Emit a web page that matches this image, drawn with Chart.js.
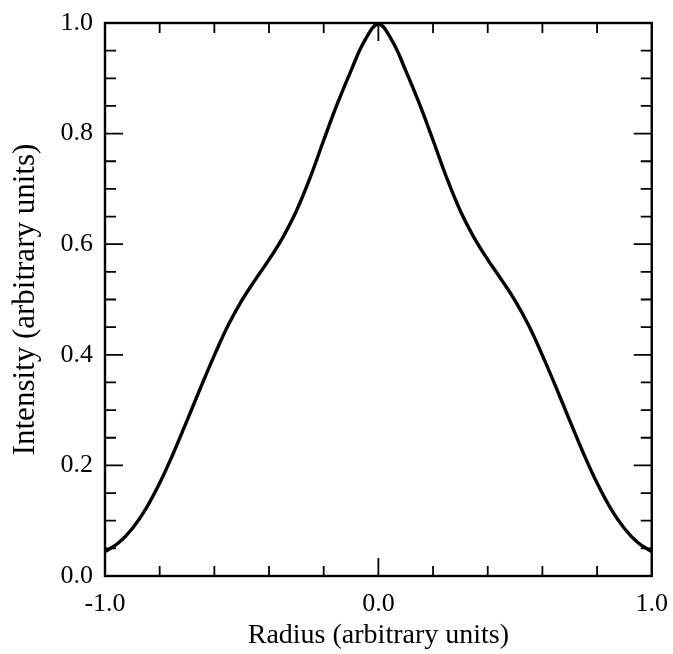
<!DOCTYPE html>
<html>
<head>
<meta charset="utf-8">
<script src="https://cdn.jsdelivr.net/npm/chart.js@4/dist/chart.umd.min.js"></script>
<style>
  html, body { margin: 0; padding: 0; background: #fff; }
  #wrap { width: 673px; height: 654px; }
</style>
</head>
<body>
<div id="wrap"><canvas id="c" width="673" height="654"></canvas></div>
<script>
/* ═══ DATA ═════════════════════════════════════════════ */
// left half of the profile; the curve is symmetric about 0
const RADIUS_L    = [-1.00,-0.95,-0.90,-0.85,-0.80,-0.75,-0.70,-0.65,-0.60,-0.55,-0.50,
                     -0.45,-0.40,-0.35,-0.30,-0.25,-0.20,-0.15,-0.10,-0.05, 0.00];
const INTENSITY_L = [0.044,0.060,0.086,0.122,0.168,0.222,0.281,0.341,0.399,0.453,0.498,
                     0.536,0.572,0.612,0.660,0.720,0.788,0.854,0.914,0.968,0.998];
const X_LABELS = [-1, 0, 1];
const Y_LABELS = [0, 0.2, 0.4, 0.6, 0.8, 1.0];

const SERIF = 'Liberation Serif';
const TICK_FONT = {family: SERIF, size: 26};

// mirror the right half
const radius = RADIUS_L.concat(RADIUS_L.slice(0, -1).reverse().map(r => -r));
const intensity = INTENSITY_L.concat(INTENSITY_L.slice(0, -1).reverse());
const points = radius.map((r, i) => ({x: r, y: intensity[i]}));

const near = (v, list) => list.some(t => Math.abs(t - v) < 1e-6);

/* ═══ FRAME + INWARD TICKS ═════════════════════════════ */
const framePlugin = {
  id: 'frame',
  afterDraw(chart) {
    const {ctx, chartArea: a, scales: {x, y}} = chart;
    ctx.save();
    ctx.strokeStyle = '#000';
    ctx.lineWidth = 2.4;
    ctx.strokeRect(a.left, a.top, a.right - a.left, a.bottom - a.top);
    ctx.lineWidth = 1.8;
    ctx.beginPath();
    x.ticks.forEach(t => {
      const px = x.getPixelForValue(t.value);
      if (px <= a.left + 1 || px >= a.right - 1) return;
      const len = near(t.value, X_LABELS) ? 18 : 10;
      ctx.moveTo(px, a.bottom); ctx.lineTo(px, a.bottom - len);
      ctx.moveTo(px, a.top);    ctx.lineTo(px, a.top + len);
    });
    y.ticks.forEach(t => {
      const py = y.getPixelForValue(t.value);
      if (py <= a.top + 1 || py >= a.bottom - 1) return;
      const len = near(t.value, Y_LABELS) ? 18 : 11;
      ctx.moveTo(a.left, py);  ctx.lineTo(a.left + len, py);
      ctx.moveTo(a.right, py); ctx.lineTo(a.right - len, py);
    });
    ctx.stroke();
    ctx.restore();
  }
};

/* ═══ CHART ════════════════════════════════════════════ */
new Chart(document.getElementById('c'), {
  type: 'line',
  data: {datasets: [{
    data: points,
    borderColor: '#000',
    borderWidth: 3.4,
    pointRadius: 0,
    tension: 0.4,
    fill: false
  }]},
  options: {
    responsive: false,
    animation: false,
    layout: {padding: {top: 23, right: 16, left: 0, bottom: 0}},
    plugins: {legend: {display: false}, tooltip: {enabled: false}},
    scales: {
      x: {
        type: 'linear', min: -1, max: 1,
        grid: {display: false}, border: {display: false},
        ticks: {stepSize: 0.2, autoSkip: false, maxRotation: 0, padding: 5,
          font: TICK_FONT, color: '#000',
          callback: v => near(v, X_LABELS) ? v.toFixed(1) : ''},
        title: {display: true, text: 'Radius (arbitrary units)', color: '#000',
          font: {family: SERIF, size: 28}, padding: {top: 0, bottom: 2}},
        afterFit: s => { s.height = 78; }
      },
      y: {
        type: 'linear', min: 0, max: 1,
        grid: {display: false}, border: {display: false},
        ticks: {stepSize: 0.05, autoSkip: false, padding: 4,
          font: TICK_FONT, color: '#000',
          callback: v => near(v, Y_LABELS) ? v.toFixed(1) : ''},
        title: {display: true, text: 'Intensity (arbitrary units)', color: '#000',
          font: {family: SERIF, size: 31}, padding: {top: 7, bottom: 0}},
        afterFit: s => { s.width = 105; }
      }
    }
  },
  plugins: [framePlugin]
});
</script>
</body>
</html>
